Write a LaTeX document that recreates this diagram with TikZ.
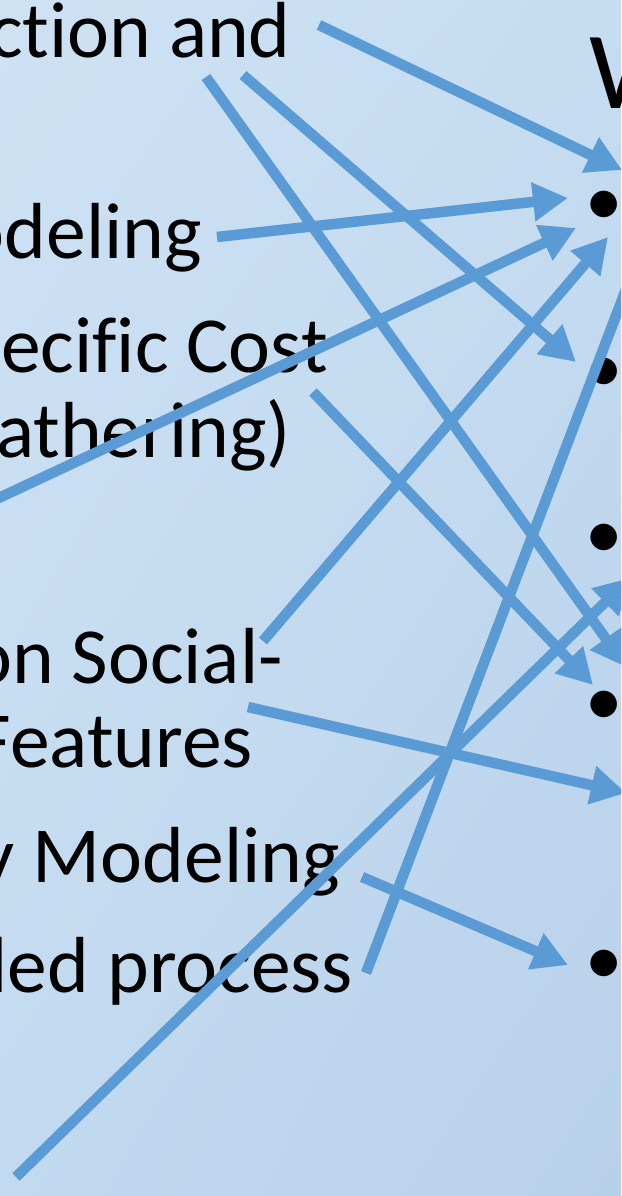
\documentclass[tikz,border=0pt]{standalone}
\usepackage{fontspec}
\setmainfont{Carlito}[Ligatures=NoCommon]
\usetikzlibrary{arrows.meta,shadings}

\definecolor{bgUL}{HTML}{CFE2F4}
\definecolor{bgUR}{HTML}{C5DCF1}
\definecolor{bgLL}{HTML}{C2DAF0}
\definecolor{bgLR}{HTML}{B8D1EA}
\definecolor{linkblue}{HTML}{5B9BD5}

\begin{document}
\begin{tikzpicture}[x=1pt,y=-1pt,
  item/.style={anchor=base east, inner sep=0pt, font=\fontsize{79.5}{95}\selectfont},
  bulletmark/.style={anchor=base, inner sep=0pt, font=\fontsize{75}{90}\selectfont},
  heading/.style={anchor=base west, inner sep=0pt, font=\fontsize{110}{132}\selectfont},
  link/.style={draw=linkblue, line width=10.5pt, -{Triangle[length=35pt,width=37pt]}}]

\useasboundingbox (0,0) rectangle (621,1196);
\clip (0,0) rectangle (621,1196);
\shade[upper left=bgUL, upper right=bgUR, lower left=bgLL, lower right=bgLR]
  (0,0) rectangle (621,1196);

% left column (item texts)
\node[item] (t1) at (291,58)  {ction and};
\node[item] (t2) at (202,258) {odeling};
\node[item] (t3) at (328,372) {ecific Cost};
\node[item] (t4) at (291,457) {athering)};
\node[item] (t5) at (283,683) {on Social-};
\node[item] (t6) at (253,767) {Features};
\node[item] (t7) at (340,882) {y Modeling};
\node[item] (t8) at (353,992) {led process};

% right column: heading and bullets
\node[heading] (h) at (589,109) {W};
\node[bulletmark] (d1) at (604,225) {•};
\node[bulletmark] (d2) at (604,392) {•};
\node[bulletmark] (d3) at (604,558) {•};
\node[bulletmark] (d4) at (604,725) {•};
\node[bulletmark] (d5) at (604,984) {•};

% connector end points
\coordinate (a1) at (319,25);   \coordinate (a2) at (622,170);
\coordinate (b1) at (217,237);  \coordinate (b2) at (568,198);
\coordinate (c1) at (-12,503);  \coordinate (c2) at (576,228);
\coordinate (e1) at (263,641);  \coordinate (e2) at (608,237);
\coordinate (f1) at (206,77);   \coordinate (f2) at (626,667);
\coordinate (g1) at (243,75);   \coordinate (g2) at (576,362);
\coordinate (j1) at (313,392);  \coordinate (j2) at (593,685);
\coordinate (k1) at (16,1177);  \coordinate (k2) at (630,578);
\coordinate (m1) at (366,973);  \coordinate (m2) at (660,200);
\coordinate (n1) at (248,707);  \coordinate (n2) at (626,793);
\coordinate (p1) at (362,877);  \coordinate (p2) at (568,965);

% connectors
\draw[link] (a1) -- (a2);
\draw[link] (b1) -- (b2);
\draw[link] (c1) -- (c2);
\draw[link] (e1) -- (e2);
\draw[link] (f1) -- (f2);
\draw[link] (g1) -- (g2);
\draw[link] (j1) -- (j2);
\draw[link] (k1) -- (k2);
\draw[link] (m1) -- (m2);
\draw[link] (n1) -- (n2);
\draw[link] (p1) -- (p2);
\end{tikzpicture}
\end{document}
